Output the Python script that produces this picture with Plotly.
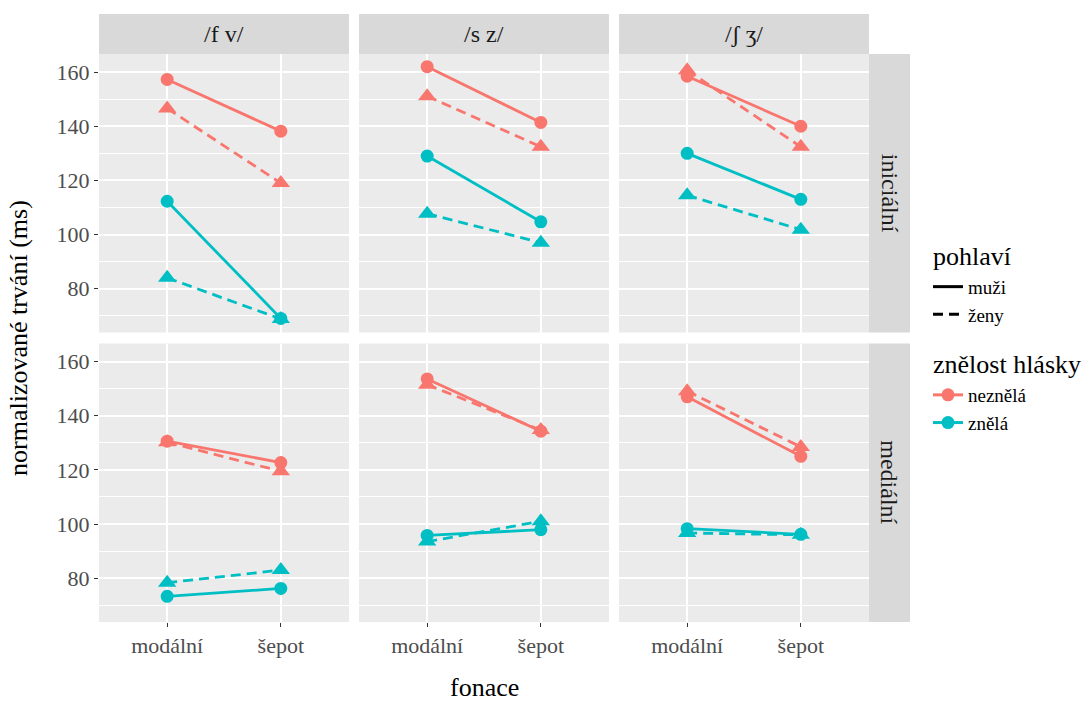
import plotly.graph_objects as go
from plotly.subplots import make_subplots

# ---- data ----
phonemes = ["/f v/", "/s z/", "/ʃ ʒ/"]
positions = ["iniciální", "mediální"]
phonation = ["modální", "šepot"]
voicing = ["neznělá", "znělá"]
sexes = ["muži", "ženy"]

# per phoneme column [/f v/, /s z/, /ʃ ʒ/]; each pair = [modální, šepot]
ini_neznela_muzi = [[157.3, 138.2], [162.0, 141.4], [158.5, 140.0]]
ini_neznela_zeny = [[146.6, 119.0], [151.1, 132.4], [160.7, 132.4]]
ini_znela_muzi = [[112.3, 69.0], [129.0, 104.7], [130.0, 113.0]]
ini_znela_zeny = [[84.0, 68.8], [107.7, 97.0], [114.5, 101.8]]

med_neznela_muzi = [[130.6, 122.7], [153.6, 134.3], [147.0, 125.0]]
med_neznela_zeny = [[130.2, 119.5], [151.5, 134.7], [149.1, 128.5]]
med_znela_muzi = [[73.3, 76.2], [95.8, 97.9], [98.3, 96.2]]
med_znela_zeny = [[78.3, 83.0], [93.5, 101.0], [96.7, 96.0]]

data = {
    ("iniciální", "neznělá", "muži"): ini_neznela_muzi,
    ("iniciální", "neznělá", "ženy"): ini_neznela_zeny,
    ("iniciální", "znělá", "muži"): ini_znela_muzi,
    ("iniciální", "znělá", "ženy"): ini_znela_zeny,
    ("mediální", "neznělá", "muži"): med_neznela_muzi,
    ("mediální", "neznělá", "ženy"): med_neznela_zeny,
    ("mediální", "znělá", "muži"): med_znela_muzi,
    ("mediální", "znělá", "ženy"): med_znela_zeny,
}

# ---- styles ----
colors = {"neznělá": "#F8766D", "znělá": "#00BFC4"}
dashes = {"muži": "solid", "ženy": "10px,6px"}
symbols = {"muži": "circle", "ženy": "triangle-up"}
msize = {"muži": 13, "ženy": 16}
FONT = "Liberation Serif"

W, H = 1088, 702
ML, MR, MT, MB = 99, 219, 54, 80
PW, PH = W - ML - MR, H - MT - MB

fig = make_subplots(rows=2, cols=3, shared_xaxes=True, shared_yaxes=True,
                    horizontal_spacing=10 / PW, vertical_spacing=11 / PH)

for r, pos in enumerate(positions):
    for c, ph in enumerate(phonemes):
        for v in voicing:
            for s in sexes:
                y = data[(pos, v, s)][c]
                fig.add_trace(go.Scatter(
                    x=phonation, y=y, mode="lines+markers",
                    line=dict(color=colors[v], width=2.8, dash=dashes[s]),
                    marker=dict(color=colors[v], symbol=symbols[s], size=msize[s]),
                    showlegend=False, hoverinfo="skip"),
                    row=r + 1, col=c + 1)

# legend dummies
gt_font = dict(size=26, color="black", family=FONT)
for s in sexes:
    fig.add_trace(go.Scatter(
        x=[None], y=[None], mode="lines", name=s,
        line=dict(color="black", width=3, dash=dashes[s]),
        legendgroup="pohlavi", legendgrouptitle=dict(text="pohlaví", font=gt_font)))
for v in voicing:
    fig.add_trace(go.Scatter(
        x=[None], y=[None], mode="lines+markers", name=v,
        line=dict(color=colors[v], width=3),
        marker=dict(color=colors[v], symbol="circle", size=13),
        legendgroup="znelost", legendgrouptitle=dict(text="znělost hlásky", font=gt_font)))

fig.update_xaxes(type="category", categoryorder="array", categoryarray=phonation,
                 range=[-0.6, 1.6], showgrid=True, gridcolor="white", gridwidth=1.6,
                 zeroline=False, showline=False,
                 tickfont=dict(family=FONT, size=22, color="#4D4D4D"))
fig.update_xaxes(ticks="outside", ticklen=4, tickcolor="#333333", tickwidth=1.2, row=2)
fig.update_xaxes(showticklabels=False, ticks="", row=1)

fig.update_yaxes(range=[63.8, 166.7], tick0=0, dtick=20, showgrid=True,
                 gridcolor="white", gridwidth=1.6, zeroline=False, showline=False,
                 minor=dict(tick0=0, dtick=10, showgrid=True, gridcolor="white", gridwidth=0.8),
                 tickfont=dict(family=FONT, size=22, color="#4D4D4D"))
fig.update_yaxes(ticks="outside", ticklen=4, tickcolor="#333333", tickwidth=1.2, col=1)

shapes = []
annotations = []
strip_h = 40 / PH
strip_w = 41 / PW
for c, ph in enumerate(phonemes):
    dom = fig.layout["xaxis" + ("" if c == 0 else str(c + 1))].domain
    shapes.append(dict(type="rect", xref="paper", yref="paper", x0=dom[0], x1=dom[1],
                       y0=1, y1=1 + strip_h, fillcolor="#D9D9D9", line=dict(width=0)))
    annotations.append(dict(text=ph, xref="paper", yref="paper", x=(dom[0] + dom[1]) / 2,
                            y=1 + strip_h / 2, showarrow=False, xanchor="center", yanchor="middle",
                            font=dict(family=FONT, size=24, color="#1A1A1A")))
for r, pos in enumerate(positions):
    dom = fig.layout["yaxis" + ("" if r == 0 else str(r * 3 + 1))].domain
    shapes.append(dict(type="rect", xref="paper", yref="paper", x0=1, x1=1 + strip_w,
                       y0=dom[0], y1=dom[1], fillcolor="#D9D9D9", line=dict(width=0)))
    annotations.append(dict(text=pos, xref="paper", yref="paper", x=1 + strip_w / 2,
                            y=(dom[0] + dom[1]) / 2, showarrow=False, textangle=90,
                            xanchor="center", yanchor="middle",
                            font=dict(family=FONT, size=24, color="#1A1A1A")))

annotations.append(dict(text="normalizované trvání (ms)", xref="paper", yref="paper",
                        x=(18 - ML) / PW, y=0.5, textangle=-90, showarrow=False,
                        xanchor="center", yanchor="middle",
                        font=dict(family=FONT, size=26, color="black")))
annotations.append(dict(text="fonace", xref="paper", yref="paper",
                        x=0.5, y=(H - MB - 687) / PH, showarrow=False,
                        xanchor="center", yanchor="middle",
                        font=dict(family=FONT, size=26, color="black")))

fig.update_layout(
    width=W, height=H,
    margin=dict(l=ML, r=MR, t=MT, b=MB, autoexpand=False),
    paper_bgcolor="white", plot_bgcolor="#EBEBEB",
    shapes=shapes, annotations=annotations,
    font=dict(family=FONT, color="black"),
    legend=dict(x=(928 - ML) / PW, xanchor="left", y=(H - MB - 231) / PH, yanchor="top",
                font=dict(family=FONT, size=19, color="black"),
                bgcolor="rgba(0,0,0,0)", tracegroupgap=16, itemwidth=30),
)

fig.write_html("out.html")
